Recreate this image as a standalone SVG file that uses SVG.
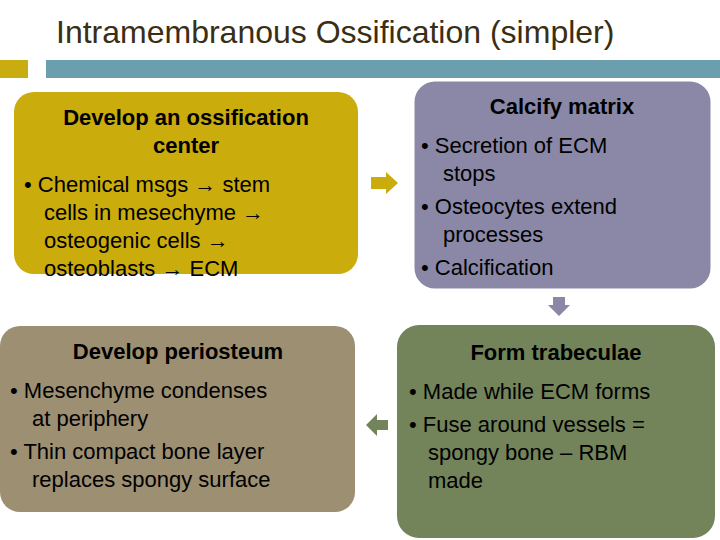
<svg xmlns="http://www.w3.org/2000/svg" width="720" height="540" viewBox="0 0 720 540">
<style>
text{font-family:"Liberation Sans",Arial,sans-serif;fill:#000;font-size:22px}
.t{font-size:32px;fill:#3a2e14}
.h{font-weight:bold;text-anchor:middle}
</style>
<rect width="720" height="540" fill="#fff"/>
<text class="t" x="56" y="43">Intramembranous Ossification (simpler)</text>
<rect x="0" y="60" width="28" height="18" fill="#C9AC10"/>
<rect x="46" y="60" width="674" height="18" fill="#6C9FAE"/>
<g id="n1">
<rect x="14" y="92" width="344" height="182" rx="20" fill="#CAAC0C"/>
<text class="h" x="186" y="125">Develop an ossification</text>
<text class="h" x="186" y="153">center</text>
<text x="24" y="192">• Chemical msgs → stem</text>
<text x="44" y="220">cells in mesechyme →</text>
<text x="44" y="248">osteogenic cells →</text>
<text x="44" y="276">osteoblasts → ECM</text>
</g>
<g id="n2">
<rect x="413" y="80" width="299" height="210" rx="22" fill="#8A88A6" stroke="#fff" stroke-width="3"/>
<text class="h" x="562" y="114">Calcify matrix</text>
<text x="421" y="153">• Secretion of ECM</text>
<text x="443" y="181">stops</text>
<text x="421" y="214">• Osteocytes extend</text>
<text x="443" y="242">processes</text>
<text x="421" y="275">• Calcification</text>
</g>
<g id="n3">
<rect x="0" y="326" width="355" height="186" rx="20" fill="#9D8F72"/>
<text class="h" x="178" y="359">Develop periosteum</text>
<text x="10" y="398">• Mesenchyme condenses</text>
<text x="32" y="426">at periphery</text>
<text x="10" y="459">• Thin compact bone layer</text>
<text x="32" y="487">replaces spongy surface</text>
</g>
<g id="n4">
<rect x="397" y="325" width="318" height="213" rx="22" fill="#74845A"/>
<text class="h" x="556" y="360">Form trabeculae</text>
<text x="409" y="399">• Made while ECM forms</text>
<text x="409" y="432">• Fuse around vessels =</text>
<text x="428" y="460">spongy bone – RBM</text>
<text x="428" y="488">made</text>
</g>
<g id="connectors">
<polygon points="371,177 386,177 386,172 398,183 386,194 386,189 371,189" fill="#CAAC0C"/>
<polygon points="553,297 565,297 565,305 570,305 559,316 548,305 553,305" fill="#8A88A6"/>
<polygon points="388,420 377,420 377,414 366,425 377,436 377,430 388,430" fill="#74845A"/>
</g>
</svg>
